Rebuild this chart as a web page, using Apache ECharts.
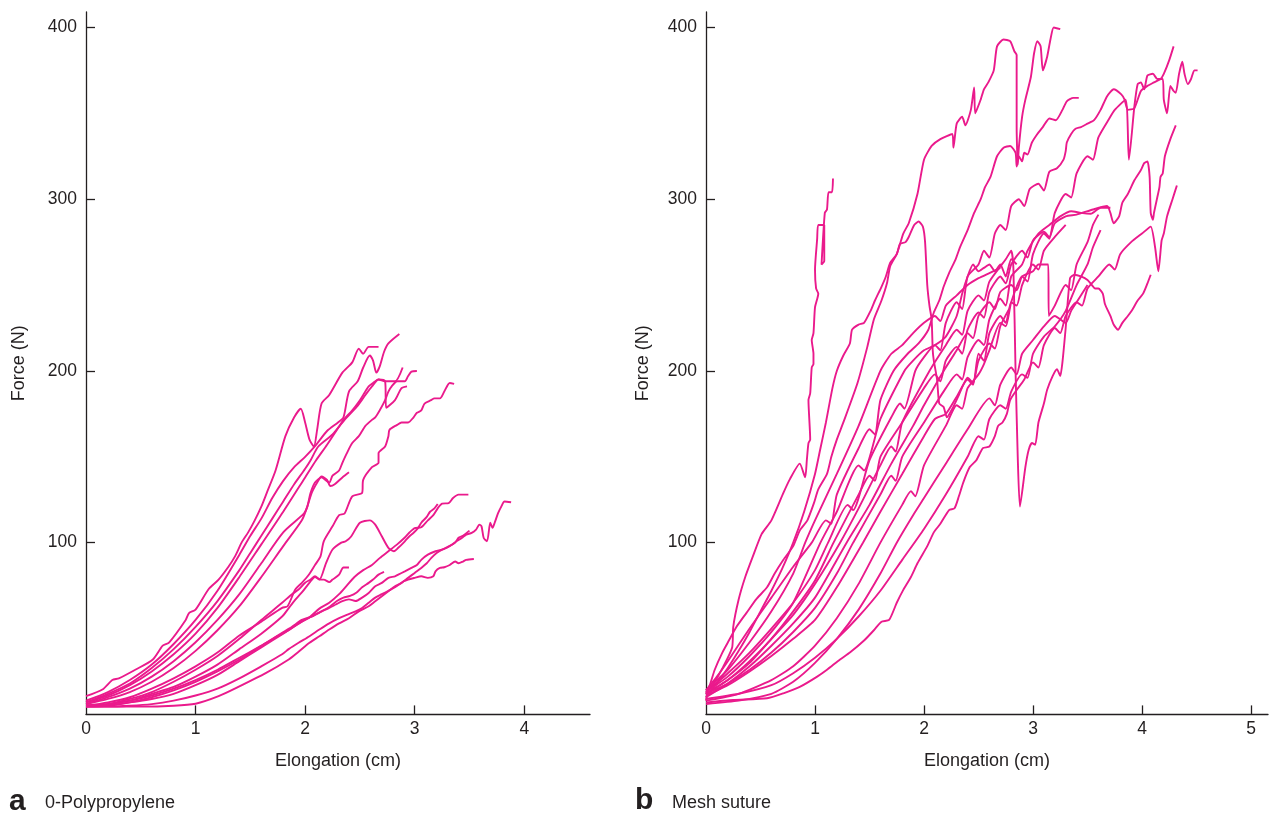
<!DOCTYPE html>
<html>
<head>
<meta charset="utf-8">
<script src="https://cdn.jsdelivr.net/npm/echarts@6/dist/echarts.min.js"></script>
<style>
html,body{margin:0;padding:0;background:#fff;}
#chart{width:1270px;height:813px;}
</style>
</head>
<body>
<div id="chart"></div>
<script>
// ---------------- DATA ----------------
// Panel a: 0-Polypropylene  (x = elongation cm, y = force N)
const ppP = [[0,10.6],[0.15,14.5],[0.24,20],[0.3,21],[0.45,26],[0.61,32],[0.7,40],[0.76,42],[0.91,55],[0.94,59],[1.0,61],[1.12,73],[1.21,78.5],[1.3,86],[1.36,92],[1.42,100],[1.48,106],[1.54,113],[1.6,121],[1.65,129],[1.73,142],[1.82,162],[1.9,173],[1.96,178],[2.0,170],[2.04,160],[2.08,156],[2.11,166],[2.15,181],[2.22,186],[2.34,199],[2.43,205],[2.49,213],[2.53,210],[2.58,214],[2.67,214]];
const ppA = [[0,8],[0.2,13],[0.4,20],[0.6,29],[0.8,41],[1.0,55],[1.2,72],[1.4,93],[1.5,104],[1.6,114],[1.7,126],[1.8,136],[1.9,144],[2.0,150],[2.1,157],[2.2,165],[2.3,170],[2.35,173],[2.4,188],[2.48,194],[2.53,202],[2.59,209],[2.62,206],[2.65,199],[2.68,202.5],[2.72,211],[2.76,216],[2.86,221.5]];
const ppC = [[0,7],[0.2,12],[0.4,18],[0.6,27],[0.8,38],[1.0,51],[1.2,66],[1.4,84],[1.5,94],[1.6,104],[1.7,114],[1.8,124],[1.9,134],[2.0,143],[2.05,148],[2.12,156],[2.25,163],[2.36,171.5],[2.47,179],[2.55,186],[2.61,191],[2.67,195],[2.73,194],[2.82,194],[2.89,202]];
const ppE = [[0,7],[0.2,11],[0.4,17],[0.6,25],[0.8,35],[1.0,47],[1.2,62],[1.4,80],[1.6,99],[1.8,118],[2.0,138],[2.1,148],[2.2,157],[2.31,167.6],[2.35,171.5],[2.43,177],[2.49,182],[2.53,186],[2.58,191],[2.62,193],[2.67,195],[2.73,194],[2.74,178.5],[2.82,183],[2.88,190],[2.93,191]];
const ppD = [[0,6],[0.2,10],[0.4,15],[0.6,22],[0.8,31],[1.0,42],[1.2,55],[1.4,70],[1.6,88],[1.8,106],[1.99,117],[2.02,121],[2.05,129],[2.09,135],[2.15,138],[2.22,135],[2.25,139],[2.31,142],[2.34,146.5],[2.38,152],[2.43,158],[2.49,162],[2.52,165],[2.55,168],[2.61,171.5],[2.64,173],[2.68,177],[2.73,183],[2.76,188],[2.79,191],[2.84,194],[2.91,194],[2.94,197],[2.97,199.6],[3.02,200]];
const ppG = [[0,6],[0.2,9],[0.4,13],[0.6,19],[0.8,27],[1.0,37],[1.2,49],[1.4,63],[1.6,80],[1.8,98],[1.97,113],[2.02,121],[2.06,129],[2.11,135],[2.15,138.5],[2.2,136.6],[2.23,133],[2.27,134],[2.34,138],[2.4,141]];
const ppF = [[0,5],[0.2,7],[0.4,10],[0.6,15],[0.8,21],[1.0,28],[1.2,36],[1.4,46],[1.6,54],[1.79,62],[1.84,63],[1.91,72.7],[1.97,76.6],[2.03,81],[2.09,87],[2.14,92],[2.17,100.8],[2.25,109.5],[2.31,116],[2.36,117],[2.43,127],[2.52,129],[2.53,136.6],[2.61,144],[2.67,146.5],[2.67,152],[2.73,156],[2.76,162],[2.77,165.7],[2.84,168.6],[2.88,170],[2.94,170],[2.99,173],[3.02,175.6],[3.06,177],[3.09,181],[3.15,183],[3.18,184],[3.23,184],[3.27,188],[3.32,193],[3.36,192.5]];
const ppH = [[0,5],[0.2,6],[0.4,9],[0.6,13],[0.8,19],[1.0,26],[1.2,34],[1.4,44],[1.6,55],[1.79,65],[1.88,70],[1.94,72.7],[2.0,76.7],[2.05,78.5],[2.09,80.4],[2.14,78.5],[2.17,78.5],[2.22,77],[2.25,78.5],[2.31,81.4],[2.35,85.5],[2.4,85.5]];
const ppI = [[0,5],[0.2,6],[0.4,8],[0.6,12],[0.8,16],[1.0,22],[1.2,29],[1.4,38],[1.6,47],[1.79,57],[1.84,61],[1.9,66],[1.97,71],[2.04,76.7],[2.09,80],[2.13,78.5],[2.19,88],[2.25,96],[2.33,100],[2.37,100.8],[2.42,103.6],[2.5,111.6],[2.59,113],[2.64,110.5],[2.7,103.7],[2.76,97],[2.81,95],[2.85,97],[2.91,100.8],[2.95,103.6],[2.99,105.8],[3.03,108.5],[3.06,111.6],[3.11,115],[3.14,118],[3.18,120],[3.21,122.5]];
const ppJ = [[0,5],[0.2,6],[0.4,8],[0.6,11],[0.8,15],[1.0,20],[1.2,26],[1.4,33],[1.6,40],[1.79,47],[1.85,49],[1.94,53],[2.04,56.6],[2.13,61.6],[2.22,65],[2.31,70],[2.38,75],[2.45,80],[2.53,84],[2.61,87],[2.68,91],[2.76,95],[2.84,99],[2.91,103],[2.95,105.8],[3.0,108.5],[3.06,109],[3.12,113],[3.17,116],[3.21,120],[3.25,122.7],[3.31,123],[3.35,126],[3.4,128],[3.49,128]];
const ppM = [[0,4.5],[0.2,5],[0.4,7],[0.6,10],[0.8,14],[1.0,19],[1.2,25],[1.4,32],[1.6,40],[1.79,47.5],[1.88,51],[1.97,55],[2.06,57],[2.15,60],[2.22,62],[2.28,64],[2.34,66],[2.4,67],[2.46,66],[2.52,68],[2.58,70.7],[2.64,74.6],[2.7,76.6],[2.76,79.5],[2.82,80.4],[2.85,81.4],[2.91,83.3],[2.97,85.3],[3.02,87],[3.06,90],[3.12,93],[3.19,95],[3.25,96],[3.31,97.8],[3.37,100],[3.4,102.9],[3.44,104],[3.5,107]];
const ppN = [[0,4.5],[0.2,4.5],[0.4,5],[0.6,6],[0.8,8],[1.0,11],[1.2,15],[1.4,21],[1.6,28],[1.79,35],[1.85,38],[1.94,41.7],[2.04,45.5],[2.13,49.4],[2.22,53],[2.31,56],[2.38,58],[2.46,60],[2.52,62],[2.58,65],[2.64,68],[2.7,70],[2.76,72],[2.82,74],[2.9,77.5],[2.94,78.5],[3.0,79.5],[3.06,80.4],[3.12,79.5],[3.17,80.4],[3.19,83.3],[3.23,85.3],[3.27,85.7],[3.32,87],[3.37,89],[3.4,88],[3.44,89],[3.47,90],[3.54,90.5]];
const ppL = [[0,4.5],[0.5,4.5],[0.8,5],[1.0,6.2],[1.21,10.6],[1.4,16.3],[1.64,24],[1.85,32],[1.94,36.5],[2.04,41.7],[2.13,45.5],[2.22,49.4],[2.31,53],[2.4,56],[2.49,60],[2.58,63],[2.64,65.9],[2.7,68.8],[2.76,71.7],[2.82,74.6],[2.88,76.6],[2.94,79.5],[3.0,82.4],[3.06,85.3],[3.11,88],[3.15,91],[3.2,94],[3.25,95.9],[3.29,96.9],[3.34,98.8],[3.38,100.8],[3.43,102.7],[3.47,104.7],[3.52,105.7],[3.56,107.6],[3.59,110.5],[3.61,109.5],[3.63,102.7],[3.66,100.8],[3.69,111.6],[3.71,108.7],[3.73,111.6],[3.76,117],[3.79,121],[3.82,124],[3.88,123.5]];
const ppO = [[0,5],[0.2,5.5],[0.4,7],[0.6,9],[0.8,12],[1.0,17],[1.2,23],[1.4,31],[1.6,39],[1.8,47],[1.97,54],[2.06,57],[2.15,60],[2.23,63],[2.29,66],[2.35,68],[2.41,69],[2.47,71],[2.52,74],[2.58,76.6],[2.62,78.5],[2.67,81.4],[2.72,83]];

// Panel b: Mesh suture
const ms01 = [[0,8],[0.02,14],[0.07,18],[0.16,28],[0.24,39],[0.25,51],[0.3,67],[0.36,80],[0.43,92],[0.51,105],[0.6,113],[0.71,129],[0.77,137],[0.86,146],[0.91,138],[0.925,148],[0.94,158],[0.956,160],[0.94,183],[0.956,187],[0.97,202],[0.986,204],[0.986,210],[0.97,218],[0.986,222],[1.0,237],[1.03,245],[1.01,248],[1.0,259],[1.02,277],[1.03,285],[1.085,285],[1.085,264],[1.06,262],[1.09,292],[1.11,294],[1.124,304],[1.156,304],[1.165,312]];
const ms02 = [[0,12],[0.04,18],[0.08,26],[0.15,36],[0.21,43],[0.28,51],[0.37,59],[0.46,67],[0.56,74],[0.63,82],[0.71,90],[0.8,98],[0.86,107],[0.93,113],[0.99,123],[1.03,131],[1.11,140],[1.15,150],[1.2,160],[1.26,170],[1.39,193],[1.48,214],[1.54,230],[1.61,241],[1.66,251],[1.69,261],[1.75,268],[1.81,280],[1.86,286],[1.94,303],[2.0,323],[2.07,331],[2.15,335],[2.26,338],[2.27,330],[2.3,344],[2.35,348],[2.38,343],[2.43,352],[2.46,365],[2.47,350],[2.52,358],[2.55,364],[2.59,368],[2.64,375],[2.67,389],[2.73,393],[2.79,392],[2.83,386],[2.85,384],[2.85,342],[2.86,320],[2.87,330],[2.9,348],[2.93,358],[2.98,371],[3.01,385],[3.04,392],[3.07,389],[3.09,375],[3.13,383],[3.16,393],[3.19,400],[3.25,399]];
const ms03 = [[0,14],[0.1,22],[0.2,31],[0.4,50],[0.6,68],[0.8,86],[0.97,100],[1.1,113],[1.15,111],[1.2,128],[1.4,155],[1.5,166],[1.55,163],[1.6,183],[1.72,200],[1.85,210],[1.95,216],[2.04,224],[2.09,234],[2.14,241],[2.18,249],[2.23,257],[2.29,265],[2.33,272],[2.4,282],[2.46,292],[2.52,300],[2.56,307],[2.61,313],[2.67,325],[2.73,330],[2.79,331],[2.84,327],[2.85,319],[2.87,325],[2.9,322],[2.92,327],[2.95,326],[2.99,333],[3.04,338],[3.09,342],[3.15,347],[3.21,346],[3.27,352],[3.31,357],[3.37,359],[3.42,359]];
const ms04 = [[0,13],[0.2,24],[0.4,36],[0.6,50],[0.8,65],[1.0,84],[1.12,100],[1.3,122],[1.35,119],[1.5,148],[1.7,173],[1.78,181],[1.82,178],[1.92,200],[2.0,208],[2.1,215],[2.15,212],[2.2,228],[2.3,240],[2.35,236],[2.4,255],[2.5,262],[2.55,270],[2.6,266],[2.65,280],[2.7,285],[2.75,282],[2.8,296],[2.87,300],[2.92,296],[2.97,306],[3.05,309],[3.1,305],[3.15,316],[3.22,318],[3.28,323],[3.3,328],[3.31,333],[3.35,338],[3.39,341],[3.44,342],[3.5,344],[3.56,346],[3.62,352],[3.68,360],[3.74,364],[3.81,361],[3.84,358],[3.87,352],[3.93,353],[3.99,363],[4.05,366],[4.11,368],[4.17,370],[4.2,373],[4.25,381],[4.29,389]];
const ms05 = [[0,8],[0.3,12],[0.6,20],[0.8,28],[1.0,40],[1.2,56],[1.4,76],[1.6,100],[1.8,122],[1.88,130],[1.92,127],[2.0,145],[2.2,168],[2.3,180],[2.35,178],[2.4,190],[2.5,198],[2.55,204],[2.6,212],[2.7,228],[2.75,226],[2.8,240],[2.9,255],[2.95,252],[3.0,268],[3.1,280],[3.15,277],[3.2,292],[3.3,303],[3.35,301],[3.4,315],[3.5,325],[3.55,323],[3.6,336],[3.7,347],[3.75,352],[3.85,358],[3.88,323],[3.93,354],[3.96,367],[3.99,368],[4.02,364],[4.05,372],[4.1,373],[4.14,370],[4.19,370],[4.2,358],[4.23,350],[4.26,366],[4.29,363],[4.31,362],[4.34,373],[4.37,380],[4.39,373],[4.42,367],[4.45,370],[4.48,375],[4.51,375]];
const ms06 = [[0,12],[0.2,20],[0.4,31],[0.6,44],[0.8,60],[1.0,78],[1.17,100],[1.4,128],[1.5,139],[1.55,136],[1.6,150],[1.8,170],[2.0,190],[2.1,198],[2.15,194],[2.2,206],[2.3,214],[2.35,210],[2.4,224],[2.5,234],[2.55,231],[2.6,246],[2.7,255],[2.75,251],[2.8,262],[2.9,270],[2.95,266],[3.0,276],[3.1,281],[3.15,278],[3.2,286],[3.3,290],[3.4,291],[3.55,294],[3.68,296],[3.71,292],[3.74,286],[3.79,290],[3.82,298],[3.87,303],[3.93,311],[3.99,317],[4.02,321],[4.05,322],[4.07,313],[4.08,292],[4.1,288],[4.11,292],[4.14,301],[4.16,307],[4.17,313],[4.19,315],[4.21,325],[4.26,335],[4.31,343]];
const ms07 = [[0,7],[0.25,8.4],[0.56,9.4],[0.71,12.3],[0.86,16],[1.02,22],[1.11,26],[1.23,32],[1.32,36],[1.45,43],[1.54,49],[1.61,54],[1.68,55],[1.75,65],[1.81,72.5],[1.88,80],[1.94,88],[2.03,98],[2.09,106],[2.15,111],[2.23,119],[2.28,120],[2.32,127],[2.36,135],[2.42,144],[2.48,148],[2.54,155],[2.6,156],[2.65,162],[2.68,168],[2.72,170],[2.76,175],[2.79,183],[2.84,188],[2.92,195],[3.0,205],[3.05,202],[3.1,215],[3.2,225],[3.25,222],[3.3,232],[3.4,240],[3.45,238],[3.5,248],[3.6,255],[3.7,262],[3.75,259],[3.8,268],[3.9,275],[4.0,280],[4.08,284],[4.12,272],[4.15,258],[4.18,276],[4.2,280],[4.23,290],[4.28,300],[4.32,308]];
const ms08 = [[0,12],[0.2,20],[0.4,30],[0.6,44],[0.8,58],[1.0,76],[1.23,100],[1.4,120],[1.6,145],[1.7,156],[1.74,153],[1.8,170],[2.05,200],[2.2,215],[2.3,224],[2.35,221],[2.4,235],[2.5,244],[2.55,241],[2.6,252],[2.75,265],[2.8,270],[2.82,260],[2.84,200],[2.86,150],[2.88,121],[2.93,144],[2.96,154],[2.99,158],[3.02,157],[3.05,170],[3.1,181],[3.13,189],[3.18,197],[3.22,201],[3.25,197],[3.27,205],[3.3,225],[3.34,254],[3.38,256],[3.44,255],[3.5,253],[3.54,250],[3.57,248],[3.6,248],[3.64,245],[3.66,239],[3.71,232],[3.74,227],[3.78,224],[3.82,228],[3.87,232],[3.91,235.5],[3.96,241],[4.01,245],[4.05,251],[4.08,256]];
const ms09 = [[0,10],[0.1,18],[0.2,27],[0.3,37],[0.4,48],[0.5,60],[0.6,72],[0.7,85],[0.8,100],[0.9,118],[1.0,140],[1.05,155],[1.1,170],[1.16,190],[1.2,200],[1.26,209],[1.32,216],[1.34,224],[1.4,227],[1.45,228],[1.51,235],[1.55,241],[1.61,249],[1.65,255],[1.69,263],[1.75,268],[1.78,274],[1.83,275],[1.86,278],[1.91,285],[1.95,287],[1.99,284],[2.01,275],[2.03,250],[2.05,238],[2.07,230],[2.08,212],[2.09,206],[2.12,195],[2.14,181],[2.18,179],[2.21,173],[2.26,178],[2.32,186],[2.4,196],[2.45,193],[2.5,206],[2.6,216],[2.65,213],[2.7,226],[2.78,236]];
const ms10 = [[0,12],[0.2,18],[0.4,26],[0.6,36],[0.8,48],[1.0,62],[1.2,82],[1.35,100],[1.6,128],[1.7,139],[1.74,136],[1.8,150],[2.0,170],[2.2,190],[2.3,198],[2.35,195],[2.4,208],[2.5,218],[2.55,215],[2.6,230],[2.7,242],[2.75,238],[2.8,255],[2.9,262],[2.95,270],[3.05,280],[3.15,285],[3.25,290],[3.35,293],[3.44,292],[3.53,291.5],[3.62,295],[3.71,295]];
const ms11 = [[0,10],[0.2,18],[0.4,28],[0.6,40],[0.8,53],[1.0,68],[1.29,100],[1.5,122],[1.7,146],[1.9,168],[2.0,180],[2.18,200],[2.3,212],[2.4,222],[2.45,219],[2.5,232],[2.6,240],[2.65,236],[2.7,246],[2.8,250],[2.85,247],[2.9,255],[3.0,258],[3.05,262],[3.14,262],[3.145,232],[3.2,238],[3.3,250],[3.35,247],[3.4,262],[3.5,275],[3.55,285],[3.6,291]];
const ms12 = [[0,13],[0.2,22],[0.4,34],[0.6,48],[0.8,65],[1.05,100],[1.2,118],[1.4,145],[1.45,142],[1.6,172],[1.82,200],[1.9,206],[2.0,212],[2.1,215],[2.2,220],[2.3,232],[2.35,245],[2.4,255],[2.45,262],[2.5,258],[2.55,260],[2.6,262],[2.65,258],[2.7,262],[2.75,255],[2.8,265],[2.85,262]];
const ms13 = [[0,11],[0.2,17],[0.4,25],[0.6,34],[0.8,44],[1.0,55],[1.2,74],[1.44,100],[1.6,118],[1.8,140],[2.0,162],[2.1,172],[2.2,175],[2.3,185],[2.4,195],[2.45,192],[2.5,210],[2.55,206],[2.6,222],[2.7,232],[2.75,228],[2.8,240],[2.85,238],[2.9,250],[3.0,262],[3.05,259],[3.1,270],[3.2,278],[3.3,285]];
const ms14 = [[0,9],[0.3,12],[0.6,17],[0.8,24],[1.0,33],[1.2,44],[1.4,57],[1.6,72],[1.8,90],[2.0,108],[2.2,128],[2.4,150],[2.5,162],[2.55,160],[2.6,172],[2.7,180],[2.75,178],[2.8,188],[2.9,198],[2.95,196],[3.0,210],[3.1,220],[3.2,226],[3.3,235],[3.4,250],[3.5,262],[3.55,272],[3.62,282]];
const ms15 = [[0,14],[0.2,26],[0.4,42],[0.6,60],[0.8,82],[0.91,100],[1.0,113],[1.2,140],[1.4,168],[1.6,200],[1.7,210],[1.8,215],[1.9,222],[2.0,228],[2.1,232],[2.15,229],[2.2,238],[2.3,244],[2.4,250],[2.5,254],[2.6,257],[2.7,260]];
const ms16 = [[0,6],[0.3,8],[0.6,12],[0.8,19],[1.0,30],[1.2,44],[1.4,61],[1.6,82],[1.75,100],[1.9,116],[2.0,126],[2.2,146],[2.4,166],[2.6,184],[2.65,180],[2.7,192],[2.8,202],[2.85,198],[2.9,210],[3.0,218],[3.1,226],[3.2,232],[3.3,228],[3.35,235],[3.4,240],[3.5,250]];

const curvesA = [ppP, ppA, ppC, ppE, ppD, ppG, ppF, ppH, ppI, ppJ, ppM, ppN, ppL, ppO];
const curvesB = [ms01, ms02, ms03, ms04, ms05, ms06, ms07, ms08, ms09, ms10, ms11, ms12, ms13, ms14, ms15, ms16];

const xTicksA = [0, 1, 2, 3, 4];
const xTicksB = [0, 1, 2, 3, 4, 5];
const yTicks = [100, 200, 300, 400];

// ---------------- CHART ----------------
const INK = '#231f20';
const MAG = '#EA1A8C';
const FONT = '"Liberation Sans", Arial, Helvetica, sans-serif';

function xAxis(grid, max, ticks) {
  return {
    type: 'value', gridIndex: grid, min: 0, max: max, interval: 1,
    name: 'Elongation (cm)', nameLocation: 'middle', nameGap: 38,
    nameTextStyle: {color: INK, fontSize: 18, fontFamily: FONT},
    axisLine: {show: true, onZero: false, lineStyle: {color: INK, width: 1.3}},
    axisTick: {show: true, inside: true, length: 9, lineStyle: {color: INK, width: 1.3},
      customValues: ticks.filter(v => v > 0)},
    axisLabel: {color: INK, fontSize: 17.5, fontFamily: FONT, margin: 6, customValues: ticks},
    splitLine: {show: false}
  };
}
function yAxis(grid, gap) {
  return {
    type: 'value', gridIndex: grid, min: 0, max: 409, interval: 100,
    name: 'Force (N)', nameLocation: 'middle', nameGap: gap,
    nameTextStyle: {color: INK, fontSize: 18, fontFamily: FONT},
    axisLine: {show: true, onZero: false, lineStyle: {color: INK, width: 1.3}},
    axisTick: {show: true, inside: true, length: 9, lineStyle: {color: INK, width: 1.3}, customValues: yTicks},
    axisLabel: {color: INK, fontSize: 17.5, fontFamily: FONT, margin: 9, customValues: yTicks},
    splitLine: {show: false}
  };
}

const series = [];
curvesA.forEach(c => series.push({type: 'line', xAxisIndex: 0, yAxisIndex: 0, data: c, showSymbol: false,
  smooth: 0.25, lineStyle: {color: MAG, width: 1.9}, silent: true}));
curvesB.forEach(c => series.push({type: 'line', xAxisIndex: 1, yAxisIndex: 1, data: c, showSymbol: false,
  smooth: 0.2, lineStyle: {color: MAG, width: 1.9}, silent: true}));

const chart = echarts.init(document.getElementById('chart'), null, {renderer: 'canvas'});
chart.setOption({
  animation: false,
  backgroundColor: '#ffffff',
  grid: [
    {left: 86, top: 12, width: 504, height: 702.4},
    {left: 706, top: 12, width: 562, height: 702.4}
  ],
  xAxis: [xAxis(0, 4.6, xTicksA), xAxis(1, 5.156, xTicksB)],
  yAxis: [yAxis(0, 58), yAxis(1, 54)],
  series: series,
  graphic: [
    {type: 'text', left: 9, top: 787, style: {text: 'a', font: 'bold 30px ' + FONT, fill: INK}},
    {type: 'text', left: 45, top: 794, style: {text: '0-Polypropylene', font: '18px ' + FONT, fill: INK}},
    {type: 'text', left: 635, top: 786, style: {text: 'b', font: 'bold 30px ' + FONT, fill: INK}},
    {type: 'text', left: 672, top: 794, style: {text: 'Mesh suture', font: '18px ' + FONT, fill: INK}}
  ]
});
</script>
</body>
</html>
